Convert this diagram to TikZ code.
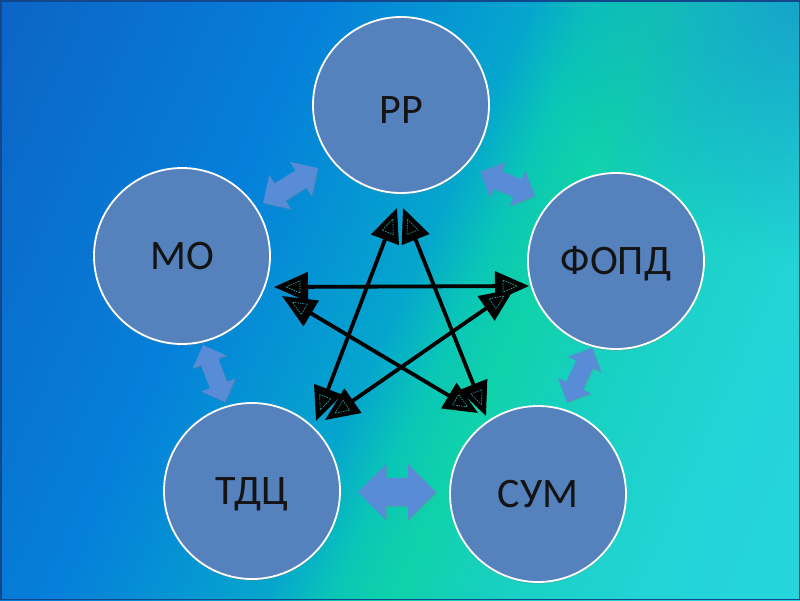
\documentclass[tikz,border=0pt]{standalone}
\usepackage{fontspec}
\setmainfont{Carlito}
\usetikzlibrary{arrows.meta,shapes.arrows,calc,shadows,fadings}

\definecolor{circfill}{RGB}{85,129,189}
\definecolor{dblfill}{RGB}{88,140,214}
\definecolor{innerc}{RGB}{40,175,175}
\definecolor{framec}{RGB}{20,70,140}
\definecolor{trcol}{RGB}{20,150,205}
\definecolor{bgA}{RGB}{12,100,198}
\definecolor{bgB}{RGB}{5,128,218}
\definecolor{bgC}{RGB}{5,166,205}
\definecolor{bgD}{RGB}{10,198,182}
\definecolor{bgE}{RGB}{16,210,170}
\definecolor{bgF}{RGB}{22,208,190}
\definecolor{bgG}{RGB}{35,212,215}
\definecolor{bgH}{RGB}{40,215,225}

\pgfdeclarehorizontalshading{bgshade}{100bp}{color(0bp)=(bgA); color(17bp)=(bgA); color(37bp)=(bgB); color(50bp)=(bgC); color(54bp)=(bgD); color(58bp)=(bgE); color(63bp)=(bgF); color(74bp)=(bgG); color(100bp)=(bgH)}
\tikzfading[name=trfade, inner color=transparent!25, outer color=transparent!100]

\newcommand\innertri[2]{%
  \draw[innerline] ($(#1)!12pt!(#2)$) -- ($(#1)!26pt!(#2)!6pt!90:(#2)$) -- ($(#1)!26pt!(#2)!6pt!-90:(#2)$) -- cycle;}

\begin{document}
\begin{tikzpicture}[x=1pt,y=-1pt,
  circ/.style={circle, draw=white, line width=1.8pt, fill=circfill, minimum size=176pt, inner sep=0pt,
    font=\fontsize{42}{42}\selectfont, text=black!92, text height=26.5pt, text depth=0pt,
    drop shadow={shadow xshift=0pt, shadow yshift=-2pt, opacity=0.25}},
  dbl/.style={double arrow, fill=dblfill, draw=none, inner xsep=0pt, text height=0pt, text depth=0pt,
    text width=0pt, minimum width=0pt,
    drop shadow={shadow xshift=1pt, shadow yshift=-1pt, opacity=0.35}},
  link/.style={line width=3.8pt, black, {Triangle[length=34pt,width=29pt]}-{Triangle[length=34pt,width=29pt]}},
  innerline/.style={innerc, line width=0.6pt, dash pattern=on 1.5pt off 1pt}
]
\useasboundingbox (0,0) rectangle (800,600);
\shade[shading=bgshade, shading angle=-24.2] (0,0) rectangle (800,600);
\begin{scope}
\clip (0,0) rectangle (800,600);
\fill[trcol, path fading=trfade] (800,0) circle (260);
\end{scope}
\draw[framec, line width=1.5pt] (0.75,0.75) rectangle (799.25,599.25);

% circles
\node[circ, text height=37pt] (rr) at (401,105) {РР};
\node[circ] (mo) at (182,256) {МО};
\node[circ] (fopd) at (616,261) {ФОПД};
\node[circ] (tdc) at (252,491) {ТДЦ};
\node[circ] (sum) at (538,494) {СУМ};

% double arrows between neighbours
\node[dbl, minimum height=65pt, inner ysep=10pt, double arrow head extend=10pt, rotate=32.5] (d1) at (290.5,185.5) {};
\node[dbl, minimum height=60pt, inner ysep=9.5pt, double arrow head extend=9.5pt, rotate=-24] (d2) at (507.5,184) {};
\node[dbl, minimum height=61pt, inner ysep=9pt, double arrow head extend=9pt, rotate=111] (d3) at (214,373.5) {};
\node[dbl, minimum height=60pt, inner ysep=9pt, double arrow head extend=9pt, rotate=65] (d4) at (579.5,375) {};
\node[dbl, minimum height=78pt, inner ysep=14pt, double arrow head extend=14pt] (d5) at (397,492) {};

% star arrow ends
\coordinate (rrL) at (397,208);
\coordinate (rrR) at (403,208);
\coordinate (tdcA) at (316,421);
\coordinate (tdcE) at (325,420);
\coordinate (sumB) at (486,416);
\coordinate (sumD) at (478,413);
\coordinate (moC) at (274,287);
\coordinate (moD) at (282,296);
\coordinate (fopdC) at (529,286);
\coordinate (fopdE) at (514,289);

\draw[link] (rrL) -- (tdcA);
\draw[link] (rrR) -- (sumB);
\draw[link] (moC) -- (fopdC);
\draw[link] (moD) -- (sumD);
\draw[link] (fopdE) -- (tdcE);

\innertri{rrL}{tdcA}
\innertri{tdcA}{rrL}
\innertri{rrR}{sumB}
\innertri{sumB}{rrR}
\innertri{moC}{fopdC}
\innertri{fopdC}{moC}
\innertri{moD}{sumD}
\innertri{sumD}{moD}
\innertri{fopdE}{tdcE}
\innertri{tdcE}{fopdE}
\end{tikzpicture}
\end{document}
